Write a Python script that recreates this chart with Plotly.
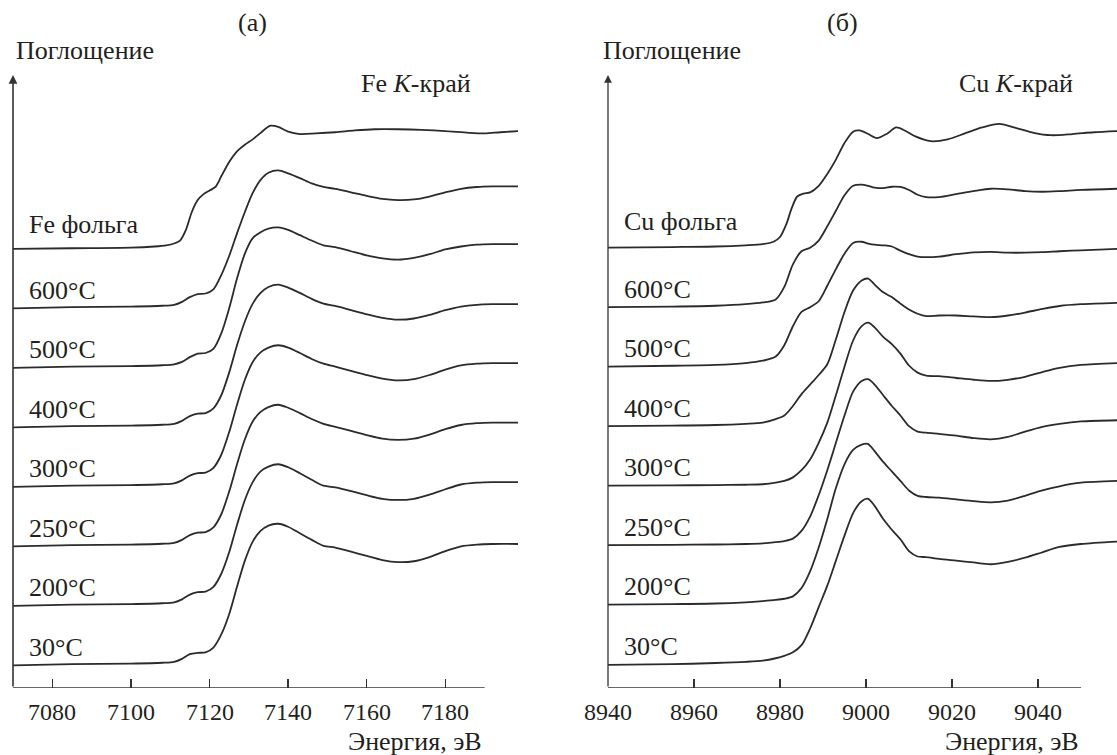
import plotly.graph_objects as go

# ---------------- DATA ----------------
LABELS = ["30°C", "200°C", "250°C", "300°C", "400°C", "500°C", "600°C"]
OFFSETS = [0.0, 0.5, 1.0, 1.5, 2.0, 2.5, 3.0]
FOIL_OFFSET = 3.5

FE_FOIL_E = [7070, 7085, 7100, 7106, 7109, 7111, 7112.5, 7114, 7115.5, 7117, 7118.5, 7120, 7121.5,
             7123, 7125, 7127, 7129, 7131, 7133, 7135.5, 7137.5, 7140, 7143, 7147, 7152, 7157,
             7162, 7168, 7174, 7180, 7186, 7190, 7194, 7199]
FE_FOIL_MU = [-0.01, -0.005, 0.0, 0.01, 0.02, 0.035, 0.06, 0.15, 0.30, 0.40, 0.45, 0.48, 0.51,
              0.60, 0.72, 0.81, 0.865, 0.91, 0.965, 1.025, 1.015, 0.975, 0.955, 0.96, 0.97, 0.985,
              0.995, 0.995, 0.99, 0.98, 0.965, 0.96, 0.97, 0.98]

FE_E = [7070, 7085, 7100, 7108, 7111, 7113, 7115, 7117, 7119, 7121, 7123, 7125, 7127, 7129, 7131,
        7133, 7135, 7137.5, 7140, 7143, 7146, 7149, 7152, 7156, 7160, 7164, 7168, 7172, 7176,
        7180, 7184, 7188, 7192, 7199]
FE_600 = [-0.01, 0.0, 0.005, 0.012, 0.02, 0.045, 0.085, 0.11, 0.115, 0.15, 0.27, 0.43, 0.62, 0.80, 0.96,
          1.07, 1.13, 1.15, 1.125, 1.085, 1.04, 1.01, 0.995, 0.965, 0.935, 0.91, 0.90, 0.905, 0.93,
          0.965, 0.995, 1.01, 1.015, 1.015]
FE_500 = [-0.01, 0.0, 0.005, 0.012, 0.02, 0.04, 0.08, 0.11, 0.115, 0.15, 0.28, 0.49, 0.74, 0.95, 1.08,
          1.13, 1.16, 1.17, 1.15, 1.105, 1.06, 1.02, 1.005, 0.97, 0.935, 0.91, 0.90, 0.915, 0.945,
          0.985, 1.01, 1.025, 1.03, 1.03]
FE_400 = [-0.01, 0.0, 0.005, 0.012, 0.02, 0.045, 0.085, 0.105, 0.11, 0.15, 0.26, 0.45, 0.68, 0.88, 1.03,
          1.12, 1.17, 1.19, 1.165, 1.12, 1.07, 1.03, 1.01, 0.975, 0.94, 0.91, 0.895, 0.905, 0.935,
          0.975, 1.005, 1.02, 1.025, 1.025]
FE_300 = [-0.01, 0.0, 0.005, 0.012, 0.02, 0.045, 0.085, 0.105, 0.11, 0.15, 0.26, 0.45, 0.68, 0.89, 1.04,
          1.12, 1.16, 1.18, 1.16, 1.115, 1.065, 1.025, 1.0, 0.965, 0.93, 0.90, 0.885, 0.895, 0.93,
          0.975, 1.01, 1.025, 1.03, 1.03]
FE_250 = [-0.01, 0.0, 0.005, 0.012, 0.02, 0.045, 0.085, 0.105, 0.11, 0.15, 0.26, 0.45, 0.68, 0.89, 1.04,
          1.12, 1.16, 1.18, 1.155, 1.11, 1.06, 1.02, 0.995, 0.96, 0.925, 0.895, 0.885, 0.895, 0.93,
          0.975, 1.01, 1.025, 1.03, 1.03]
FE_200 = [-0.01, 0.0, 0.005, 0.012, 0.02, 0.045, 0.085, 0.105, 0.11, 0.15, 0.26, 0.44, 0.67, 0.88, 1.03,
          1.12, 1.16, 1.18, 1.155, 1.105, 1.05, 1.0, 0.985, 0.955, 0.92, 0.89, 0.88, 0.89, 0.925,
          0.97, 1.01, 1.025, 1.03, 1.03]
FE_30 = [-0.01, 0.0, 0.005, 0.012, 0.02, 0.045, 0.085, 0.095, 0.10, 0.14, 0.25, 0.42, 0.65, 0.87, 1.03,
         1.12, 1.165, 1.18, 1.155, 1.10, 1.045, 0.995, 0.98, 0.945, 0.91, 0.875, 0.858, 0.865, 0.90,
         0.95, 0.99, 1.005, 1.01, 1.01]

CU_FOIL_E = [8940, 8955, 8965, 8972, 8976, 8978.5, 8980, 8981.5, 8982.7, 8984, 8985.5, 8987, 8989,
             8991, 8993, 8995, 8997, 8998.5, 9000.5, 9002.5, 9005, 9007, 9009, 9011.5, 9015, 9019,
             9023, 9027, 9031, 9035, 9039, 9043, 9048, 9053, 9058.4]
CU_FOIL_MU = [0.0, 0.005, 0.01, 0.02, 0.03, 0.05, 0.09, 0.20, 0.33, 0.43, 0.455, 0.465, 0.52, 0.62,
              0.74, 0.88, 0.975, 0.985, 0.955, 0.92, 0.96, 1.01, 0.985, 0.935, 0.895, 0.91, 0.96,
              1.01, 1.04, 1.005, 0.965, 0.945, 0.955, 0.97, 0.98]

CU_E = [8940, 8955, 8965, 8972, 8976, 8979, 8981, 8983, 8985, 8987, 8989, 8991, 8993, 8995, 8997,
        8999, 9000.5, 9002, 9004, 9006, 9008, 9010, 9012, 9014, 9017, 9021, 9025, 9029, 9033,
        9037, 9041, 9045, 9050, 9058.4]
CU_600 = [0.0, 0.005, 0.012, 0.025, 0.04, 0.065, 0.17, 0.36, 0.47, 0.50, 0.56, 0.68, 0.81, 0.94, 1.02,
          1.03, 1.02, 1.005, 1.0, 1.012, 1.01, 0.985, 0.945, 0.925, 0.925, 0.95, 0.975, 0.995, 0.99,
          0.975, 0.97, 0.975, 0.985, 0.995]
CU_500 = [0.0, 0.008, 0.015, 0.03, 0.05, 0.085, 0.18, 0.34, 0.46, 0.50, 0.55, 0.68, 0.82, 0.95, 1.04,
          1.05, 1.035, 1.025, 1.02, 1.01, 0.975, 0.945, 0.925, 0.92, 0.925, 0.945, 0.96, 0.965, 0.958,
          0.958, 0.962, 0.97, 0.978, 0.99]
CU_400 = [0.0, 0.005, 0.01, 0.02, 0.03, 0.06, 0.09, 0.17, 0.27, 0.35, 0.43, 0.52, 0.73, 0.96, 1.14,
          1.225, 1.24, 1.19, 1.125, 1.085, 1.03, 0.98, 0.945, 0.925, 0.93, 0.93, 0.922, 0.916, 0.93,
          0.955, 0.985, 1.01, 1.025, 1.036]
CU_300 = [0.0, 0.003, 0.005, 0.008, 0.012, 0.025, 0.04, 0.07, 0.13, 0.22, 0.36, 0.53, 0.76, 1.0, 1.22,
          1.34, 1.37, 1.33, 1.25, 1.19, 1.11, 1.01, 0.95, 0.925, 0.92, 0.905, 0.89, 0.88, 0.89,
          0.915, 0.955, 0.99, 1.015, 1.03]
CU_250 = [0.0, 0.003, 0.006, 0.01, 0.015, 0.025, 0.035, 0.055, 0.12, 0.24, 0.42, 0.63, 0.86, 1.09, 1.29,
          1.38, 1.395, 1.35, 1.26, 1.17, 1.09, 1.0, 0.955, 0.945, 0.935, 0.92, 0.90, 0.89, 0.91,
          0.955, 0.995, 1.02, 1.04, 1.05]
CU_200 = [0.0, 0.005, 0.01, 0.02, 0.03, 0.04, 0.05, 0.07, 0.14, 0.28, 0.48, 0.72, 0.98, 1.18, 1.30,
          1.345, 1.35, 1.29, 1.20, 1.12, 1.04, 0.96, 0.915, 0.905, 0.90, 0.885, 0.87, 0.86, 0.875,
          0.915, 0.96, 0.995, 1.025, 1.04]
CU_30 = [-0.005, 0.0, 0.01, 0.02, 0.03, 0.05, 0.07, 0.10, 0.16, 0.30, 0.48, 0.66, 0.87, 1.08, 1.27,
         1.37, 1.39, 1.33, 1.22, 1.13, 1.05, 0.95, 0.905, 0.90, 0.885, 0.87, 0.855, 0.84, 0.86,
         0.895, 0.94, 0.985, 1.01, 1.03]

FE_SERIES = [FE_30, FE_200, FE_250, FE_300, FE_400, FE_500, FE_600]
CU_SERIES = [CU_30, CU_200, CU_250, CU_300, CU_400, CU_500, CU_600]

FE_TICKS = [7080, 7100, 7120, 7140, 7160, 7180]
CU_TICKS = [8940, 8960, 8980, 9000, 9020, 9040]

# ---------------- LAYOUT HELPERS ----------------
W, H = 1117, 755
Y_RANGE = [-0.2, 4.951]
LINE_COLOR = "#2b2b2b"
TEXT_COLOR = "#231f20"
FONT = "Liberation Serif"


def px_x(p):
    return p / W


def px_y(p):
    return 1 - p / H


fig = go.Figure()

line_style = dict(color=LINE_COLOR, width=1.8, shape="spline", smoothing=0.8)

# Fe panel
for lab, off, mu in zip(LABELS, OFFSETS, FE_SERIES):
    fig.add_trace(go.Scatter(x=FE_E, y=[v + off for v in mu], mode="lines", name="Fe " + lab,
                             line=line_style, xaxis="x", yaxis="y", showlegend=False,
                             hoverinfo="skip"))
fig.add_trace(go.Scatter(x=FE_FOIL_E, y=[v + FOIL_OFFSET for v in FE_FOIL_MU], mode="lines",
                         name="Fe фольга", line=line_style, xaxis="x", yaxis="y",
                         showlegend=False, hoverinfo="skip"))
# Cu panel
for lab, off, mu in zip(LABELS, OFFSETS, CU_SERIES):
    fig.add_trace(go.Scatter(x=CU_E, y=[v + off for v in mu], mode="lines", name="Cu " + lab,
                             line=line_style, xaxis="x2", yaxis="y2", showlegend=False,
                             hoverinfo="skip"))
fig.add_trace(go.Scatter(x=CU_FOIL_E, y=[v + FOIL_OFFSET for v in CU_FOIL_MU], mode="lines",
                         name="Cu фольга", line=line_style, xaxis="x2", yaxis="y2",
                         showlegend=False, hoverinfo="skip"))

ydom = [px_y(688), px_y(75)]
fe_right = 7070 + (518 - 13) / 3.93
cu_right = 8940 + (W - 608) / 4.3

xcommon = dict(showgrid=False, zeroline=False, showline=False, ticks="inside", ticklen=9,
               tickwidth=1.4, tickcolor="#333", automargin=False, showticklabels=False,
               fixedrange=True)
fig.update_layout(
    template="none",
    font=dict(family=FONT, color=TEXT_COLOR),
    width=W, height=H, margin=dict(l=0, r=0, t=0, b=0, pad=0, autoexpand=False),
    paper_bgcolor="white", plot_bgcolor="white", showlegend=False,
    xaxis=dict(domain=[px_x(13), px_x(518)], range=[7070, fe_right], tickvals=FE_TICKS,
               anchor="y", **xcommon),
    yaxis=dict(domain=ydom, range=Y_RANGE, visible=False, anchor="x", automargin=False),
    xaxis2=dict(domain=[px_x(608), 1.0], range=[8940, cu_right], tickvals=CU_TICKS,
                anchor="y2", **xcommon),
    yaxis2=dict(domain=ydom, range=Y_RANGE, visible=False, anchor="x2", automargin=False),
)

# axis lines
fig.add_shape(type="line", xref="x", yref="y", x0=7070, x1=7190, y0=Y_RANGE[0], y1=Y_RANGE[0],
              line=dict(color="#333", width=1.6))
fig.add_shape(type="line", xref="x2", yref="y2", x0=8940, x1=9050, y0=Y_RANGE[0], y1=Y_RANGE[0],
              line=dict(color="#333", width=1.4))

ann = []
# y arrows
ann.append(dict(x=7070, y=Y_RANGE[1], ax=7070, ay=Y_RANGE[0], xref="x", yref="y", axref="x", ayref="y",
                showarrow=True, arrowhead=2, arrowsize=1.1, arrowwidth=1.6, arrowcolor="#333", text=""))
ann.append(dict(x=8940, y=Y_RANGE[1], ax=8940, ay=Y_RANGE[0], xref="x2", yref="y2", axref="x2",
                ayref="y2", showarrow=True, arrowhead=2, arrowsize=1.2, arrowwidth=1.3,
                arrowcolor="#333", text=""))

tf = dict(family=FONT, size=26, color=TEXT_COLOR)
tickf = dict(family=FONT, size=24, color=TEXT_COLOR)


def txt(t, x, y, xa="left", ya="middle"):
    ann.append(dict(text=t, x=px_x(x), y=px_y(y), xref="paper", yref="paper", xanchor=xa,
                    yanchor=ya, showarrow=False, font=tf))


# tick labels (placed at the axes' own tick values)
for t in FE_TICKS:
    ann.append(dict(text=str(t), x=t, xref="x", y=px_y(712), yref="paper", xanchor="center",
                    yanchor="middle", showarrow=False, font=tickf))
for t in CU_TICKS:
    ann.append(dict(text=str(t), x=t, xref="x2", y=px_y(712), yref="paper", xanchor="center",
                    yanchor="middle", showarrow=False, font=tickf))

txt("(a)", 252, 23, "center")
txt("(б)", 842, 23, "center")
txt("Поглощение", 14, 50)
txt("Поглощение", 601, 50)
txt("Fe <i>K</i>-край", 473, 84, "right")
txt("Cu <i>K</i>-край", 1075, 84, "right")
txt("Энергия, эВ", 484, 741, "right")
txt("Энергия, эВ", 1081, 741, "right")

# spectrum labels
for lab, off in zip(LABELS, OFFSETS):
    ann.append(dict(text=lab, x=7070 + 14 / 3.93, y=off + 17 / 119, xref="x", yref="y",
                    xanchor="left", yanchor="middle", showarrow=False, font=tf))
    ann.append(dict(text=lab, x=8940 + 14 / 4.3, y=off + 18 / 119, xref="x2", yref="y2",
                    xanchor="left", yanchor="middle", showarrow=False, font=tf))
ann.append(dict(text="Fe фольга", x=7070 + 14 / 3.93, y=FOIL_OFFSET + 23 / 119, xref="x", yref="y",
                xanchor="left", yanchor="middle", showarrow=False, font=tf))
ann.append(dict(text="Cu фольга", x=8940 + 14 / 4.3, y=FOIL_OFFSET + 26 / 119, xref="x2", yref="y2",
                xanchor="left", yanchor="middle", showarrow=False, font=tf))

fig.update_layout(annotations=ann)
fig.write_html("out.html", config={"displayModeBar": False, "staticPlot": True},
               post_script="document.body.style.margin='0';document.body.style.overflow='hidden';")
